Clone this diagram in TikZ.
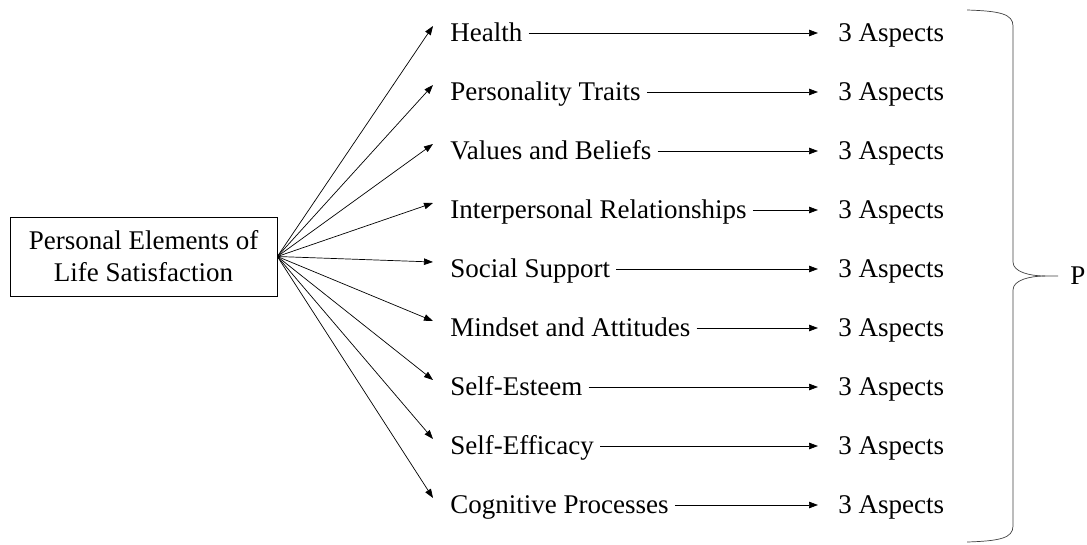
\documentclass[tikz,border=0pt]{standalone}
\usepackage{fontspec}
\setmainfont{Liberation Serif}
\usetikzlibrary{calc,arrows.meta}

\begin{document}
\begin{tikzpicture}[x=1pt,y=-1pt,>={Triangle[length=9pt,width=6.5pt]},
       line width=0.7pt,font=\fontsize{27}{32}\selectfont,
       rowtext/.style={inner sep=0,anchor=west,text height=19pt,text depth=3pt}]
       \useasboundingbox (0,0) rectangle (1087,544);
       \node (elements) at (143.5,256.5) [rectangle,draw,inner sep=0,align=center,
                               minimum width=267pt,minimum height=79pt]{Personal Elements of\\Life Satisfaction};
       \foreach \name [count=\i from 0] in {Health,Personality Traits,Values and Beliefs,
           Interpersonal Relationships,Social Support,Mindset and Attitudes,
           Self-Esteem,Self-Efficacy,Cognitive Processes}{
         \node (factor\i) at (450,33+59*\i) [rowtext]{\name};
         \node (aspect\i) at (838,33+59*\i) [rowtext]{3 Aspects};
         \coordinate (tip\i) at ($(factor\i.west)+(-17,-7)$);
         \draw [->] (elements.east) -- (tip\i);
         \draw [->,shorten <=6pt,shorten >=20pt] (factor\i.east) -- (aspect\i.west);
       }
       % right brace closing all nine rows
       \draw[black!75] (967,10) .. controls (1000,11) and (1013,14) .. (1013,26)
                     -- (1013,262) .. controls (1013,272) and (1030,276) .. (1045,276)
                     -- (1058,276);
       \draw[black!75] (1045,276) .. controls (1030,276) and (1013,280) .. (1013,290)
                     -- (1013,526) .. controls (1013,538) and (1000,541) .. (967,542);
       \node (total) at (1070,276) [rowtext]{P};
     \end{tikzpicture}
\end{document}
